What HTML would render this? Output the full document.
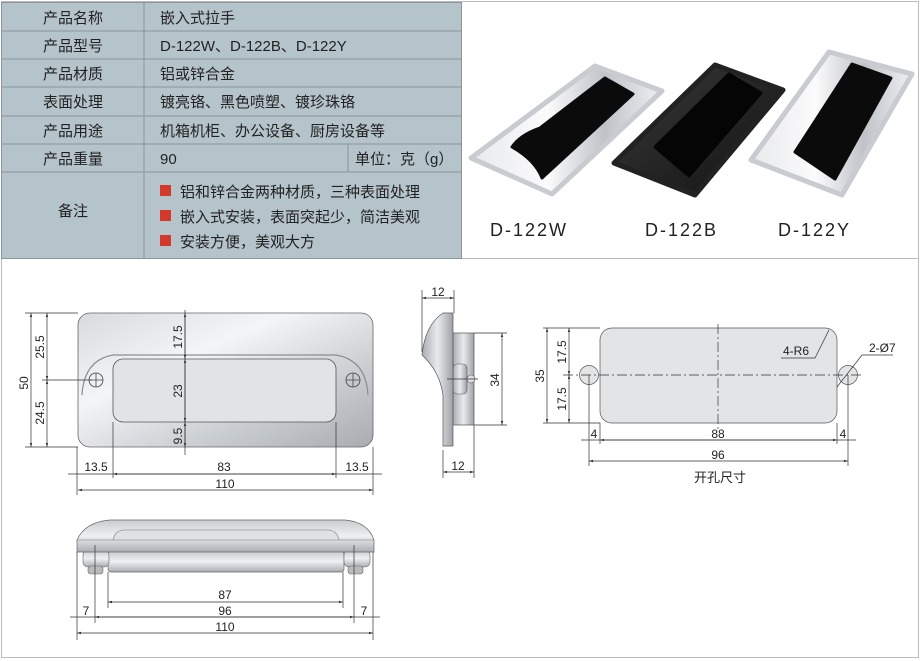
<!DOCTYPE html>
<html><head><meta charset="utf-8"><style>
body{margin:0;width:924px;height:661px;background:#fff;overflow:hidden;font-family:"Liberation Sans","Noto Sans CJK SC",sans-serif}
svg{position:absolute;left:0;top:0}
</style></head><body>
<svg width="924" height="661" viewBox="0 0 924 661" xmlns="http://www.w3.org/2000/svg">
<defs>
<linearGradient id="met" x1="0" y1="0" x2="1" y2="1"><stop offset="0" stop-color="#d8dadd"/><stop offset=".35" stop-color="#f4f5f6"/><stop offset=".7" stop-color="#c9ccd0"/><stop offset="1" stop-color="#a8acb1"/></linearGradient>
<linearGradient id="chr" x1="0" y1="0" x2="1" y2="0"><stop offset="0" stop-color="#e8e9ec"/><stop offset=".4" stop-color="#fbfbfc"/><stop offset=".7" stop-color="#bfc3c8"/><stop offset="1" stop-color="#eef0f2"/></linearGradient>
<linearGradient id="blk" x1="0" y1="0" x2="1" y2="1"><stop offset="0" stop-color="#3a3a3c"/><stop offset="1" stop-color="#111"/></linearGradient>
<linearGradient id="gv" x1="0" y1="0" x2="0" y2="1"><stop offset="0" stop-color="#c8cbcf"/><stop offset=".5" stop-color="#eef0f2"/><stop offset="1" stop-color="#a9adb2"/></linearGradient>
<linearGradient id="gh" x1="0" y1="0" x2="1" y2="0"><stop offset="0" stop-color="#a9adb2"/><stop offset=".5" stop-color="#e8eaec"/><stop offset="1" stop-color="#9ea2a7"/></linearGradient>
<marker id="a" viewBox="0 0 10 10" refX="10" refY="5" markerWidth="6" markerHeight="6" orient="auto-start-reverse"><path d="M0,2L10,5L0,8z" fill="#333"/></marker>
</defs>
<rect x="1.5" y="1.5" width="917" height="656" fill="none" stroke="#bbb"/>
<line x1="1" y1="258.5" x2="919" y2="258.5" stroke="#bbb"/>
<rect x="1.5" y="2.5" width="460" height="256" fill="#b5c3cb" stroke="#8a9499"/>
<g stroke="#8a9499" stroke-width="1">
<line x1="1" y1="31" x2="462" y2="31"/><line x1="1" y1="59" x2="462" y2="59"/><line x1="1" y1="87" x2="462" y2="87"/><line x1="1" y1="116" x2="462" y2="116"/><line x1="1" y1="144" x2="462" y2="144"/><line x1="1" y1="172" x2="462" y2="172"/>
<line x1="144" y1="2" x2="144" y2="258"/><line x1="348" y1="144" x2="348" y2="172"/>
</g>
<g font-size="15" fill="#222" font-family="Liberation Sans,Noto Sans CJK SC,sans-serif">
<g text-anchor="middle"><text x="73" y="23">产品名称</text><text x="73" y="51">产品型号</text><text x="73" y="79">产品材质</text><text x="73" y="107">表面处理</text><text x="73" y="136">产品用途</text><text x="73" y="164">产品重量</text><text x="73" y="216">备注</text></g>
<text x="160" y="23">嵌入式拉手</text><text x="160" y="51">D-122W、D-122B、D-122Y</text><text x="160" y="79">铝或锌合金</text><text x="160" y="107">镀亮铬、黑色喷塑、镀珍珠铬</text><text x="160" y="136">机箱机柜、办公设备、厨房设备等</text><text x="160" y="164">90</text><text x="355" y="164">单位：克（g）</text>
<text x="180" y="197">铝和锌合金两种材质，三种表面处理</text><text x="180" y="222">嵌入式安装，表面突起少，简洁美观</text><text x="180" y="247">安装方便，美观大方</text>
</g>
<g fill="#d33a2c"><rect x="160" y="185" width="11" height="11"/><rect x="160" y="210" width="11" height="11"/><rect x="160" y="235" width="11" height="11"/></g>
<!-- photos -->
<g stroke-linejoin="round">
<path d="M471,158 L595,66 L662,91 L552,194 Z" fill="url(#chr)" stroke="#c8cbcf" stroke-width="5"/>
<path d="M512,147 Q520,135 540,128 L605,78 L633,94 L542,178 Q535,160 512,147 Z" fill="#0b0b0c" stroke="#0b0b0c" stroke-width="3"/>
<path d="M614,163 L715,65 L783,90 L695,195 Z" fill="url(#blk)" stroke="#222" stroke-width="5"/>
<path d="M655,147 L729,74 L761,93 L689,176 Z" fill="#050505" stroke="#050505" stroke-width="3"/>
<path d="M751,160 L829,52 L912,74 L842,195 Z" fill="url(#chr)" stroke="#c8cbcf" stroke-width="5"/>
<path d="M795,152 L852,64 L891,78 L835,179 Z" fill="#0b0b0c" stroke="#0b0b0c" stroke-width="3"/>
</g>
<g font-size="18" fill="#222" letter-spacing="2" font-family="Liberation Sans,sans-serif"><text x="490" y="236">D-122W</text><text x="645" y="236">D-122B</text><text x="778" y="236">D-122Y</text></g>
<!-- front view -->
<rect x="78" y="313" width="295" height="134" rx="12" fill="url(#met)" stroke="#666" stroke-width=".8"/>
<path d="M82,395 Q84,360 113,355 L336,355 Q366,360 368,395" fill="none" stroke="#8a8e93" stroke-width="1.2"/>
<rect x="113" y="359" width="223" height="63" rx="10" fill="#e1e3e5" stroke="#555" stroke-width=".8"/>
<g fill="none" stroke="#444" stroke-width=".8"><circle cx="96" cy="380" r="7"/><circle cx="353" cy="380" r="7"/><path d="M89,380h14M96,373v14M346,380h14M353,373v14"/></g>
<g stroke="#333" stroke-width=".7" fill="none">
<path d="M25,313H78M25,447H78M42,380H92M185,310V455M77,447V495M373,447V495M113,422V478M336,422V478"/>
<line x1="31" y1="313" x2="31" y2="447" marker-start="url(#a)" marker-end="url(#a)"/>
<line x1="47" y1="313" x2="47" y2="380" marker-start="url(#a)" marker-end="url(#a)"/>
<line x1="47" y1="380" x2="47" y2="447" marker-start="url(#a)" marker-end="url(#a)"/>
<line x1="185" y1="313" x2="185" y2="359" marker-start="url(#a)" marker-end="url(#a)"/>
<line x1="185" y1="359" x2="185" y2="422" marker-start="url(#a)" marker-end="url(#a)"/>
<line x1="185" y1="422" x2="185" y2="447" marker-start="url(#a)" marker-end="url(#a)"/>
<line x1="68" y1="474" x2="382" y2="474"/>
<line x1="113" y1="474" x2="336" y2="474" marker-start="url(#a)" marker-end="url(#a)"/>
<line x1="78" y1="490" x2="373" y2="490" marker-start="url(#a)" marker-end="url(#a)"/>
</g>
<g font-size="12" fill="#222" font-family="Liberation Sans,sans-serif">
<text transform="translate(31,383) rotate(-90)" text-anchor="middle" dy="-3">50</text>
<text transform="translate(47,347) rotate(-90)" text-anchor="middle" dy="-3">25.5</text>
<text transform="translate(47,413) rotate(-90)" text-anchor="middle" dy="-3">24.5</text>
<text transform="translate(185,337) rotate(-90)" text-anchor="middle" dy="-3">17.5</text>
<text transform="translate(185,391) rotate(-90)" text-anchor="middle" dy="-3">23</text>
<text transform="translate(185,436) rotate(-90)" text-anchor="middle" dy="-3">9.5</text>
<text x="96" y="471" text-anchor="middle">13.5</text><text x="224" y="471" text-anchor="middle">83</text><text x="357" y="471" text-anchor="middle">13.5</text><text x="225" y="488" text-anchor="middle">110</text>
</g>
<!-- side view -->
<rect x="453" y="333" width="21" height="92" fill="url(#gh)" stroke="#555" stroke-width=".7"/>
<rect x="453" y="364" width="14" height="30" rx="4" fill="url(#gh)" stroke="#555" stroke-width=".6"/>
<circle cx="471" cy="379" r="4" fill="#ddd" stroke="#555" stroke-width=".6"/>
<path d="M443,313 L453,313 L453,446 L443,446 L443,395 Q440,372 422,355 Q425,325 443,313 Z" fill="url(#gh)" stroke="#555" stroke-width=".7"/>
<g stroke="#333" stroke-width=".7" fill="none">
<path d="M422,290V352M454,290V313M443,450V478M474,425V478M474,333H507M474,425H507M447,379H478"/>
<line x1="422" y1="298" x2="454" y2="298" marker-start="url(#a)" marker-end="url(#a)"/>
<line x1="443" y1="472" x2="474" y2="472" marker-start="url(#a)" marker-end="url(#a)"/>
<line x1="502" y1="333" x2="502" y2="425" marker-start="url(#a)" marker-end="url(#a)"/>
</g>
<g font-size="12" fill="#222" font-family="Liberation Sans,sans-serif"><text x="438" y="296" text-anchor="middle">12</text><text x="458" y="470" text-anchor="middle">12</text><text transform="translate(502,380) rotate(-90)" text-anchor="middle" dy="-3">34</text></g>
<!-- cutout -->
<rect x="600" y="328" width="237" height="95" rx="12" fill="#e3e4e6" stroke="#555" stroke-width=".7"/>
<circle cx="589" cy="375" r="9.5" fill="#e3e4e6" stroke="#555" stroke-width=".7"/>
<circle cx="848" cy="375" r="9.5" fill="#e3e4e6" stroke="#555" stroke-width=".7"/>
<g stroke="#333" stroke-width=".7" fill="none">
<path d="M563,375H862" stroke-dasharray="10,3,2,3"/><path d="M718,324V430" stroke-dasharray="10,3,2,3"/>
<path d="M543,328H600M543,423H600M589,375V466M848,375V466M600,423V444M837,423V444"/>
<line x1="547" y1="328" x2="547" y2="423" marker-start="url(#a)" marker-end="url(#a)"/>
<line x1="569" y1="328" x2="569" y2="375" marker-start="url(#a)" marker-end="url(#a)"/>
<line x1="569" y1="375" x2="569" y2="423" marker-start="url(#a)" marker-end="url(#a)"/>
<line x1="581" y1="440" x2="856" y2="440"/>
<line x1="600" y1="440" x2="837" y2="440" marker-start="url(#a)" marker-end="url(#a)"/>
<line x1="589" y1="461" x2="848" y2="461" marker-start="url(#a)" marker-end="url(#a)"/>
<path d="M781,358H815L829,330"/><path d="M837,387L862,355H893"/>
</g>
<g font-size="12" fill="#222" font-family="Liberation Sans,Noto Sans CJK SC,sans-serif">
<text transform="translate(547,376) rotate(-90)" text-anchor="middle" dy="-3">35</text>
<text transform="translate(569,352) rotate(-90)" text-anchor="middle" dy="-3">17.5</text>
<text transform="translate(569,399) rotate(-90)" text-anchor="middle" dy="-3">17.5</text>
<text x="594" y="438" text-anchor="middle">4</text><text x="718" y="438" text-anchor="middle">88</text><text x="843" y="438" text-anchor="middle">4</text><text x="718" y="459" text-anchor="middle">96</text>
<text x="783" y="355">4-R6</text><text x="869" y="352">2-Ø7</text>
<text x="720" y="482" text-anchor="middle" font-size="13">开孔尺寸</text>
</g>
<!-- bottom view -->
<rect x="108" y="551" width="236" height="21" rx="3" fill="url(#gv)" stroke="#666" stroke-width=".7"/>
<rect x="83" y="550" width="26" height="17" rx="5" fill="url(#gv)" stroke="#666" stroke-width=".6"/>
<rect x="344" y="550" width="26" height="17" rx="5" fill="url(#gv)" stroke="#666" stroke-width=".6"/>
<rect x="88" y="566" width="15" height="8" rx="3" fill="#bbb" stroke="#666" stroke-width=".6"/>
<rect x="348" y="566" width="15" height="8" rx="3" fill="#bbb" stroke="#666" stroke-width=".6"/>
<path d="M77,552 L77,540 Q85,522 110,520 L345,520 Q368,522 374,540 L374,552 Z" fill="url(#gv)" stroke="#666" stroke-width=".7"/>
<path d="M113,540 Q115,530 125,530 L327,530 Q337,530 339,540" fill="#dfe1e3" stroke="#777" stroke-width=".6"/>
<line x1="77" y1="540" x2="374" y2="540" stroke="#777" stroke-width=".6"/>
<g stroke="#333" stroke-width=".7" fill="none">
<path d="M77,552V640M373,552V640M108,572V608M343,572V608M95,545V623M354,545V623"/>
<line x1="108" y1="602" x2="343" y2="602" marker-start="url(#a)" marker-end="url(#a)"/>
<line x1="70" y1="617" x2="380" y2="617"/>
<line x1="95" y1="617" x2="354" y2="617" marker-start="url(#a)" marker-end="url(#a)"/>
<line x1="77" y1="633" x2="373" y2="633" marker-start="url(#a)" marker-end="url(#a)"/>
</g>
<g font-size="12" fill="#222" font-family="Liberation Sans,sans-serif" text-anchor="middle"><text x="225" y="599">87</text><text x="225" y="615">96</text><text x="86" y="615">7</text><text x="364" y="615">7</text><text x="225" y="631">110</text></g>
</svg>
</body></html>
